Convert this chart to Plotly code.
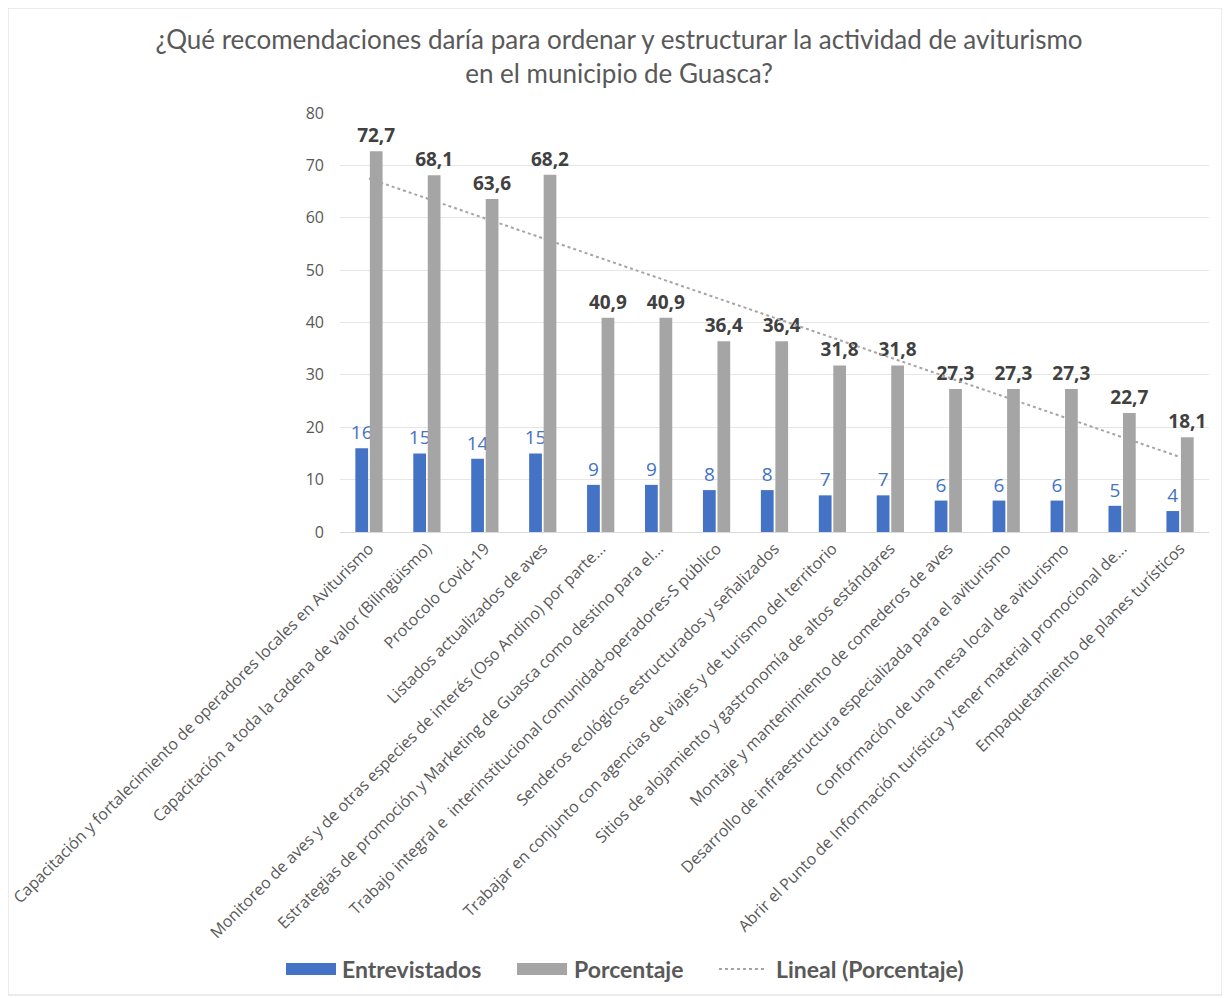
import numpy as np
import plotly.graph_objects as go

categories = [
    "Capacitación y fortalecimiento de operadores locales en Aviturismo",
    "Capacitación a toda la cadena de valor (Bilingüismo)",
    "Protocolo Covid-19",
    "Listados actualizados de aves",
    "Monitoreo de aves y de otras especies de interés (Oso Andino) por parte...",
    "Estrategias de promoción y Marketing de Guasca como destino para el...",
    "Trabajo integral e  interinstitucional comunidad-operadores-S público",
    "Senderos ecológicos estructurados y señalizados",
    "Trabajar en conjunto con agencias de viajes y de turismo del territorio",
    "Sitios de alojamiento y gastronomía de altos estándares",
    "Montaje y mantenimiento de comederos de aves",
    "Desarrollo de infraestructura especializada para el aviturismo",
    "Conformación de una mesa local de aviturismo",
    "Abrir el Punto de Información turística y tener material promocional de...",
    "Empaquetamiento de planes turísticos",
]
entrevistados = [16, 15, 14, 15, 9, 9, 8, 8, 7, 7, 6, 6, 6, 5, 4]
porcentaje = [72.7, 68.1, 63.6, 68.2, 40.9, 40.9, 36.4, 36.4, 31.8, 31.8, 27.3, 27.3, 27.3, 22.7, 18.1]
y_ticks = [0, 10, 20, 30, 40, 50, 60, 70, 80]

W, H = 1230, 998
OFF = 8  # page offset of the figure in the screenshot
ml, mr, mt, mb = 340 - OFF, 1230 - (1209 - OFF), 113 - OFF, 998 - (532 - OFF)

def fmt(v):
    return ("%.1f" % v).replace(".", ",")

idx = np.arange(1, len(porcentaje) + 1)
slope, intercept = np.polyfit(idx, porcentaje, 1)
trend = slope * idx + intercept

fig = go.Figure()
fig.add_trace(go.Bar(
    x=categories, y=entrevistados, name="Entrevistados",
    marker=dict(color="#4472C4", line=dict(width=0)),
    text=[str(v) for v in entrevistados], textposition="outside",
    textfont=dict(color="#4472C4", size=19, family="Open Sans"),
    constraintext="none", cliponaxis=False, showlegend=False,
))
fig.add_trace(go.Bar(
    x=categories, y=porcentaje, name="Porcentaje",
    marker=dict(color="#A5A5A5", line=dict(width=0)),
    text=[fmt(v) for v in porcentaje], textposition="outside",
    textfont=dict(color="#404040", size=19, family="Open Sans"),
    texttemplate="<b>%{text}</b>",
    constraintext="none", cliponaxis=False, showlegend=False,
))
fig.add_trace(go.Scatter(
    x=categories, y=trend, mode="lines", name="Lineal (Porcentaje)",
    line=dict(color="#A5A5A5", width=2, dash="dot"),
    hoverinfo="skip", showlegend=False,
))

pw = W - ml - mr
ph = H - mt - mb

def px_x(sx):
    return (sx - OFF - ml) / pw

def px_y(sy):
    return (H - mb - (sy - OFF)) / ph

shapes = [dict(
    type="rect", xref="paper", yref="paper",
    x0=px_x(OFF), x1=px_x(1222), y0=px_y(995), y1=px_y(OFF),
    line=dict(color="#D9D9D9", width=1), fillcolor="rgba(0,0,0,0)", layer="below",
)]
annotations = []
# custom legend (Excel style)
leg_y = 969
legend_items = [
    ("Entrevistados", "rect", "#4472C4", 286, 336, 340),
    ("Porcentaje", "rect", "#A5A5A5", 517, 567, 572),
    ("Lineal (Porcentaje)", "line", "#A5A5A5", 719, 765, 774),
]
for label, kind, color, x0, x1, tx in legend_items:
    if kind == "rect":
        shapes.append(dict(type="rect", xref="paper", yref="paper",
                           x0=px_x(x0), x1=px_x(x1), y0=px_y(leg_y + 6), y1=px_y(leg_y - 6),
                           fillcolor=color, line=dict(width=0)))
    else:
        shapes.append(dict(type="line", xref="paper", yref="paper",
                           x0=px_x(x0), x1=px_x(x1), y0=px_y(leg_y), y1=px_y(leg_y),
                           line=dict(color=color, width=2, dash="dot")))
    annotations.append(dict(
        text="<b>%s</b>" % label, xref="paper", yref="paper",
        x=px_x(tx), y=px_y(leg_y), xanchor="left", yanchor="middle",
        showarrow=False, font=dict(size=23, color="#595959", family="Lato"),
    ))

fig.update_layout(
    width=W, height=H,
    margin=dict(l=ml, r=mr, t=mt, b=mb),
    paper_bgcolor="white", plot_bgcolor="white",
    barmode="group", bargap=0.5, bargroupgap=0.12,
    font=dict(family="Open Sans", color="#595959"),
    title=dict(
        text="¿Qué recomendaciones daría para ordenar y estructurar la actividad de aviturismo<br>en el municipio de Guasca?",
        x=(619 - OFF) / W, xref="container", xanchor="center",
        y=1 - (49 - OFF) / H, yref="container", yanchor="middle",
        font=dict(size=26, color="#595959", family="Lato"),
    ),
    xaxis=dict(
        tickangle=-45, tickfont=dict(size=16, color="#595959", family="Open Sans"),
        showline=True, linecolor="#D9D9D9", linewidth=1,
        showgrid=False, ticks="", automargin=False,
    ),
    yaxis=dict(
        range=[0, 80], tickvals=y_ticks, showgrid=True, gridcolor="#E6E6E6", gridwidth=1,
        zeroline=False,
        tickfont=dict(size=16, color="#595959", family="Open Sans"),
        ticks="", showline=False, automargin=False, ticklabelstandoff=15,
    ),
    showlegend=False,
    shapes=shapes,
    annotations=annotations,
)

fig.write_html("out.html")
